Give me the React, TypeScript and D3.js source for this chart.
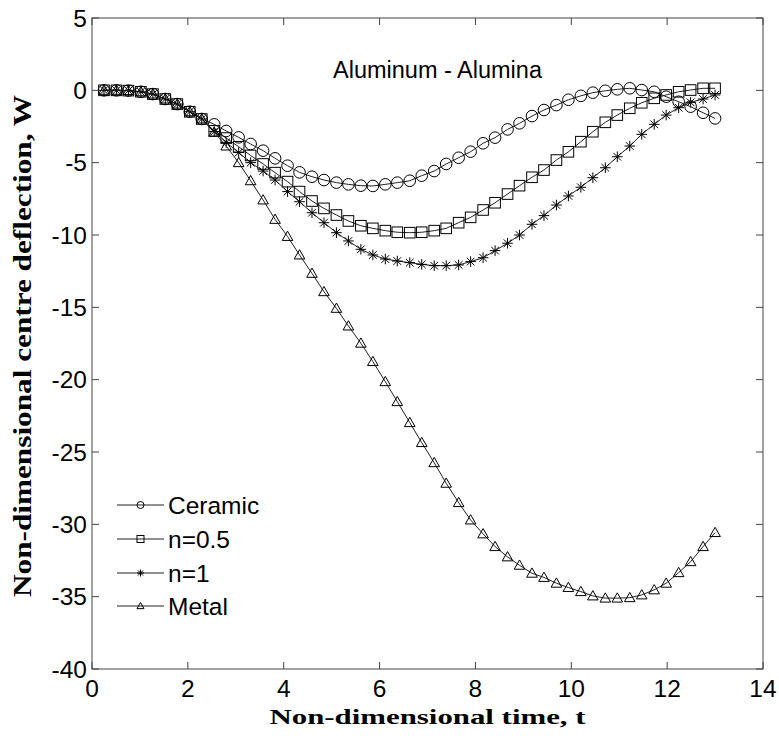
import React from "react";
import * as d3 from "d3";

const T = [0.25, 0.51, 0.76, 1.02, 1.27, 1.53, 1.78, 2.04, 2.29, 2.55, 2.8, 3.06, 3.31, 3.57, 3.82, 4.08, 4.33, 4.59, 4.84, 5.1, 5.35, 5.61, 5.86, 6.12, 6.37, 6.63, 6.88, 7.14, 7.39, 7.65, 7.9, 8.16, 8.41, 8.67, 8.92, 9.18, 9.43, 9.69, 9.94, 10.2, 10.45, 10.71, 10.96, 11.22, 11.47, 11.73, 11.98, 12.24, 12.49, 12.75, 13.0];

const ceramic = [0, 0, -0.02, -0.1, -0.26, -0.6, -0.95, -1.48, -1.98,
  -2.35, -2.81, -3.25, -3.71, -4.17, -4.7, -5.21, -5.67, -5.97, -6.2,
  -6.38, -6.5, -6.59, -6.61, -6.5, -6.38, -6.25, -5.9, -5.58, -5.09,
  -4.66, -4.24, -3.66, -3.27, -2.7, -2.28, -1.78, -1.36, -1.02, -0.65,
  -0.38, -0.16, -0.03, 0.07, 0.14, 0.02, -0.1, -0.44, -0.79, -1.13,
  -1.55, -1.94];

const n05 = [0, 0, -0.02, -0.1, -0.26, -0.6, -0.95, -1.48, -1.98,
  -2.8, -3.3, -3.9, -4.5, -5.09, -5.69, -6.31, -7.0, -7.65, -8.16,
  -8.62, -9.03, -9.36, -9.54, -9.7, -9.81, -9.84, -9.81, -9.7, -9.54,
  -9.15, -8.78, -8.27, -7.77, -7.17, -6.59, -6.01, -5.51, -4.82, -4.25,
  -3.55, -2.86, -2.21, -1.71, -1.24, -0.86, -0.55, -0.32, -0.1, 0.02,
  0.14, 0.14];

const n1 = [0, 0, -0.02, -0.1, -0.26, -0.6, -0.95, -1.48, -1.98,
  -2.85, -3.6, -4.3, -5.0, -5.58, -6.2, -7.0, -7.7, -8.46, -9.15,
  -9.84, -10.41, -10.99, -11.38, -11.66, -11.8, -11.91, -12.03, -12.12, -12.12,
  -12.07, -11.84, -11.57, -11.08, -10.57, -10.0, -9.26, -8.66, -7.93, -7.3,
  -6.7, -6.04, -5.35, -4.59, -3.85, -3.04, -2.35, -1.71, -1.2, -0.83,
  -0.6, -0.32];

const metal = [0, 0, -0.02, -0.1, -0.26, -0.6, -0.95, -1.48, -1.98,
  -2.9, -3.85, -5.0, -6.25, -7.58, -8.92, -10.1, -11.38, -12.65, -13.92,
  -15.07, -16.29, -17.48, -18.75, -20.14, -21.52, -22.97, -24.35, -25.74, -27.16,
  -28.5, -29.7, -30.66, -31.54, -32.25, -32.83, -33.38, -33.67, -34.07, -34.37,
  -34.65, -34.95, -35.1, -35.1, -35.07, -34.88, -34.53, -34.07, -33.34, -32.58,
  -31.54, -30.57];

const seriesNames = ["Ceramic", "n=0.5", "n=1", "Metal"];
const seriesMarkers = ["circle", "square", "star", "triangle"];
const seriesValues = [ceramic, n05, n1, metal];

const xTicks = [0, 2, 4, 6, 8, 10, 12, 14];
const yTicks = [5, 0, -5, -10, -15, -20, -25, -30, -35, -40];

const title = "Aluminum - Alumina";
const xLabel = "Non-dimensional time, t";
const yLabel = "Non-dimensional centre deflection, W";

const W = 779, H = 738;
const L = 92, R = 763, TOP = 18, B = 669;

function Marker({ kind, x, y, s }: { kind: string; x: number; y: number; s: number }) {
  const st = { fill: "none", stroke: "#000", strokeWidth: 1 };
  if (kind === "circle") return <circle cx={x} cy={y} r={s} {...st} />;
  if (kind === "square") return <rect x={x - s} y={y - s} width={2 * s} height={2 * s} {...st} />;
  if (kind === "triangle") {
    const h = s * 1.0;
    const p = `${x},${y - h} ${x + s},${y + h * 0.75} ${x - s},${y + h * 0.75}`;
    return <polygon points={p} {...st} />;
  }
  const d = s * 0.72;
  return (
    <path
      d={`M${x - s},${y}L${x + s},${y}M${x},${y - s}L${x},${y + s}M${x - d},${y - d}L${x + d},${y + d}M${x - d},${y + d}L${x + d},${y - d}`}
      stroke="#000"
      strokeWidth={1}
      fill="none"
    />
  );
}

export default function App() {
  const x = d3.scaleLinear().domain([0, 14]).range([L, R]);
  const y = d3.scaleLinear().domain([-40, 5]).range([B, TOP]);
  const line = d3.line<number>().x((_, i) => x(T[i])).y((d) => y(d));
  const axisColor = "#444";
  const tickLen = 7;
  const legendRows = [505, 539, 573, 606];
  const fs = 24.5;

  return (
    <svg
      width={W}
      height={H}
      style={{ position: "absolute", left: 0, top: 0, background: "#fff" }}
      fontFamily="'Liberation Sans', Arial, sans-serif"
    >
      <rect x={0} y={0} width={W} height={H} fill="#fff" />
      {seriesValues.map((vals, si) => (
        <g key={si}>
          <path d={line(vals) || ""} fill="none" stroke="#222" strokeWidth={1} />
          {vals.map((v, i) => (
            <Marker key={i} kind={seriesMarkers[si]} x={x(T[i])} y={y(v)} s={si === 0 ? 5.8 : 5.3} />
          ))}
        </g>
      ))}
      <rect x={L} y={TOP} width={R - L} height={B - TOP} fill="none" stroke={axisColor} strokeWidth={1} />
      {xTicks.map((t) => (
        <g key={"x" + t}>
          <line x1={x(t)} x2={x(t)} y1={B} y2={B - tickLen} stroke={axisColor} />
          <line x1={x(t)} x2={x(t)} y1={TOP} y2={TOP + tickLen} stroke={axisColor} />
          <text x={x(t)} y={697} fontSize={fs} textAnchor="middle" fill="#000">{t}</text>
        </g>
      ))}
      {yTicks.map((t) => (
        <g key={"y" + t}>
          <line x1={L} x2={L + tickLen} y1={y(t)} y2={y(t)} stroke={axisColor} />
          <line x1={R} x2={R - tickLen} y1={y(t)} y2={y(t)} stroke={axisColor} />
          <text x={87} y={y(t) + 8.6} fontSize={fs} textAnchor="end" fill="#000">{t}</text>
        </g>
      ))}
      <text x={333} y={78} fontSize={23.5} fill="#000">{title}</text>
      <text
        x={(L + R) / 2}
        y={724}
        fontSize={22}
        fontWeight="bold"
        fontFamily="'Liberation Serif', 'Times New Roman', serif"
        textAnchor="middle"
        textLength={316}
        lengthAdjust="spacingAndGlyphs"
        fill="#000"
      >
        {xLabel}
      </text>
      <text
        transform={`translate(31, ${(95 + 597) / 2}) rotate(-90)`}
        fontSize={26}
        fontWeight="bold"
        fontFamily="'Liberation Serif', 'Times New Roman', serif"
        textAnchor="middle"
        textLength={502}
        lengthAdjust="spacingAndGlyphs"
        fill="#000"
      >
        {yLabel}
      </text>
      {seriesNames.map((name, i) => (
        <g key={name}>
          <line x1={117} x2={164} y1={legendRows[i]} y2={legendRows[i]} stroke="#222" />
          <Marker kind={seriesMarkers[i]} x={140.5} y={legendRows[i]} s={3.5} />
          <text x={168} y={legendRows[i] + 8.6} fontSize={fs} fill="#000">{name}</text>
        </g>
      ))}
    </svg>
  );
}
